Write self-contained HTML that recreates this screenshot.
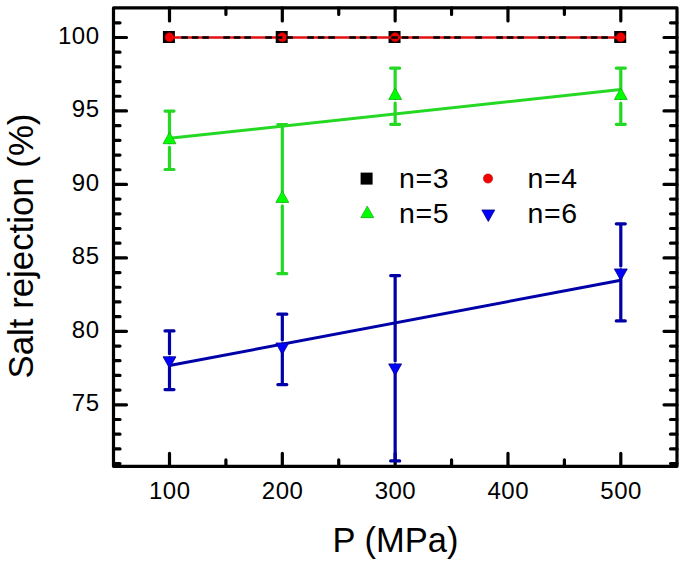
<!DOCTYPE html>
<html><head><meta charset="utf-8"><style>
html,body{margin:0;padding:0;background:#fff;}
svg{display:block;}
text{font-family:"Liberation Sans",sans-serif;}
</style></head><body>
<svg width="685" height="565" viewBox="0 0 685 565">
<rect width="685" height="565" fill="#fff"/>
<path d="M169.50 466.3V453.3M169.50 7.9V20.9M282.32 466.3V453.3M282.32 7.9V20.9M395.15 466.3V453.3M395.15 7.9V20.9M507.97 466.3V453.3M507.97 7.9V20.9M620.80 466.3V453.3M620.80 7.9V20.9M225.91 466.3V459.8M225.91 7.9V14.4M338.74 466.3V459.8M338.74 7.9V14.4M451.56 466.3V459.8M451.56 7.9V14.4M564.39 466.3V459.8M564.39 7.9V14.4M113.5 463.57H120.0M677.0 463.57H670.5M113.5 448.88H120.0M677.0 448.88H670.5M113.5 434.18H120.0M677.0 434.18H670.5M113.5 419.49H120.0M677.0 419.49H670.5M113.5 404.80H126.5M677.0 404.80H664.0M113.5 390.11H120.0M677.0 390.11H670.5M113.5 375.42H120.0M677.0 375.42H670.5M113.5 360.72H120.0M677.0 360.72H670.5M113.5 346.03H120.0M677.0 346.03H670.5M113.5 331.34H126.5M677.0 331.34H664.0M113.5 316.65H120.0M677.0 316.65H670.5M113.5 301.96H120.0M677.0 301.96H670.5M113.5 287.26H120.0M677.0 287.26H670.5M113.5 272.57H120.0M677.0 272.57H670.5M113.5 257.88H126.5M677.0 257.88H664.0M113.5 243.19H120.0M677.0 243.19H670.5M113.5 228.50H120.0M677.0 228.50H670.5M113.5 213.80H120.0M677.0 213.80H670.5M113.5 199.11H120.0M677.0 199.11H670.5M113.5 184.42H126.5M677.0 184.42H664.0M113.5 169.73H120.0M677.0 169.73H670.5M113.5 155.04H120.0M677.0 155.04H670.5M113.5 140.34H120.0M677.0 140.34H670.5M113.5 125.65H120.0M677.0 125.65H670.5M113.5 110.96H126.5M677.0 110.96H664.0M113.5 96.27H120.0M677.0 96.27H670.5M113.5 81.58H120.0M677.0 81.58H670.5M113.5 66.88H120.0M677.0 66.88H670.5M113.5 52.19H120.0M677.0 52.19H670.5M113.5 37.50H126.5M677.0 37.50H664.0M113.5 22.81H120.0M677.0 22.81H670.5" stroke="#000" stroke-width="3.2" stroke-linecap="round" fill="none"/>
<rect x="113.5" y="7.9" width="563.5" height="458.4" stroke="#000" stroke-width="3.2" fill="none" stroke-linejoin="round"/>
<g font-size="24" letter-spacing="0.5" fill="#000"><text x="99.5" y="411.2" text-anchor="end">75</text><text x="99.5" y="337.7" text-anchor="end">80</text><text x="99.5" y="264.3" text-anchor="end">85</text><text x="99.5" y="190.8" text-anchor="end">90</text><text x="99.5" y="117.4" text-anchor="end">95</text><text x="99.5" y="43.9" text-anchor="end">100</text><text x="169.8" y="499.2" text-anchor="middle">100</text><text x="282.6" y="499.2" text-anchor="middle">200</text><text x="395.4" y="499.2" text-anchor="middle">300</text><text x="508.3" y="499.2" text-anchor="middle">400</text><text x="621.1" y="499.2" text-anchor="middle">500</text></g>
<text x="332.5" y="551.8" font-size="34.5">P (MPa)</text>
<text transform="translate(33 378.5) rotate(-90)" font-size="34.8">Salt rejection (%)</text>
<path d="M165.00 111.10H174.00M165.00 169.50H174.00M169.50 111.10V142.73M169.50 147.23V169.50" stroke="#24d824" stroke-width="3.2" stroke-linecap="round" fill="none"/>
<path d="M277.82 124.50H286.82M277.82 273.60H286.82M282.32 124.50V201.43M282.32 205.93V273.60" stroke="#24d824" stroke-width="3.2" stroke-linecap="round" fill="none"/>
<path d="M390.65 68.20H399.65M390.65 124.30H399.65M395.15 68.20V98.53M395.15 103.03V124.30" stroke="#24d824" stroke-width="3.2" stroke-linecap="round" fill="none"/>
<path d="M616.30 68.20H625.30M616.30 124.30H625.30M620.80 68.20V98.53M620.80 103.03V124.30" stroke="#24d824" stroke-width="3.2" stroke-linecap="round" fill="none"/>
<path d="M165.00 330.90H174.00M165.00 389.60H174.00M169.50 330.90V353.77M169.50 357.77V389.60" stroke="#0000a8" stroke-width="3.2" stroke-linecap="round" fill="none"/>
<path d="M277.82 314.20H286.82M277.82 384.60H286.82M282.32 314.20V339.97M282.32 343.97V384.60" stroke="#0000a8" stroke-width="3.2" stroke-linecap="round" fill="none"/>
<path d="M390.65 275.60H399.65M390.65 460.90H399.65M395.15 275.60V360.92M395.15 364.92V460.90" stroke="#0000a8" stroke-width="3.2" stroke-linecap="round" fill="none"/>
<path d="M616.30 223.80H625.30M616.30 320.90H625.30M620.80 223.80V265.97M620.80 269.97V320.90" stroke="#0000a8" stroke-width="3.2" stroke-linecap="round" fill="none"/>
<path d="M169.5 138.35L620.8 89.6" stroke="#24d824" stroke-width="3" fill="none"/>
<path d="M169.5 365.5L620.8 280.3" stroke="#0000a8" stroke-width="3" fill="none"/>
<path d="M169.50 132.23L175.95 143.73L163.05 143.73Z" fill="#00ff00" stroke="#10b010" stroke-width="0.8" stroke-linejoin="miter"/>
<path d="M282.32 190.93L288.77 202.43L275.88 202.43Z" fill="#00ff00" stroke="#10b010" stroke-width="0.8" stroke-linejoin="miter"/>
<path d="M395.15 88.03L401.60 99.53L388.70 99.53Z" fill="#00ff00" stroke="#10b010" stroke-width="0.8" stroke-linejoin="miter"/>
<path d="M620.80 88.03L627.25 99.53L614.35 99.53Z" fill="#00ff00" stroke="#10b010" stroke-width="0.8" stroke-linejoin="miter"/>
<path d="M169.50 368.27L175.95 356.77L163.05 356.77Z" fill="#0000ff" stroke="#000080" stroke-width="0.8" stroke-linejoin="miter"/>
<path d="M282.32 354.47L288.77 342.97L275.88 342.97Z" fill="#0000ff" stroke="#000080" stroke-width="0.8" stroke-linejoin="miter"/>
<path d="M395.15 375.42L401.60 363.92L388.70 363.92Z" fill="#0000ff" stroke="#000080" stroke-width="0.8" stroke-linejoin="miter"/>
<path d="M620.80 280.47L627.25 268.97L614.35 268.97Z" fill="#0000ff" stroke="#000080" stroke-width="0.8" stroke-linejoin="miter"/>
<rect x="162.90" y="31.00" width="12" height="12" fill="#000"/>
<rect x="275.72" y="31.00" width="12" height="12" fill="#000"/>
<rect x="388.55" y="31.00" width="12" height="12" fill="#000"/>
<rect x="614.20" y="31.00" width="12" height="12" fill="#000"/>
<path d="M169.5 37.5H620.8" stroke="#e01010" stroke-width="2.7" fill="none"/>
<circle cx="169.50" cy="37.2" r="4.5" fill="#f00000" stroke="#c00000" stroke-width="0.6"/>
<circle cx="282.32" cy="37.2" r="4.5" fill="#f00000" stroke="#c00000" stroke-width="0.6"/>
<circle cx="395.15" cy="37.2" r="4.5" fill="#f00000" stroke="#c00000" stroke-width="0.6"/>
<circle cx="620.80" cy="37.2" r="4.5" fill="#f00000" stroke="#c00000" stroke-width="0.6"/>
<path d="M181.30 37.5H187.90M191.80 37.5H198.40M202.30 37.5H208.90M223.30 37.5H229.90M233.80 37.5H240.40M244.30 37.5H250.90M265.30 37.5H271.90M275.80 37.5H282.40M286.30 37.5H292.90M307.30 37.5H313.90M317.80 37.5H324.40M328.30 37.5H334.90M349.30 37.5H355.90M359.80 37.5H366.40M370.30 37.5H376.90M391.30 37.5H397.90M401.80 37.5H408.40M412.30 37.5H418.90M433.30 37.5H439.90M443.80 37.5H450.40M454.30 37.5H460.90M475.30 37.5H481.90M496.30 37.5H502.90M506.80 37.5H513.40M517.30 37.5H523.90M538.30 37.5H544.90M548.80 37.5H555.40M559.30 37.5H565.90M580.30 37.5H586.90M590.80 37.5H597.40M601.30 37.5H607.90" stroke="#000" stroke-width="2.7" fill="none"/>
<rect x="360.6" y="172.6" width="12" height="12" fill="#000"/>
<circle cx="488" cy="178.5" r="4.6" fill="#f00000" stroke="#c00000" stroke-width="0.6"/>
<path d="M367.30 206.13L373.75 217.63L360.85 217.63Z" fill="#00ff00" stroke="#10b010" stroke-width="0.8" stroke-linejoin="miter"/>
<path d="M488.30 221.47L494.75 209.97L481.85 209.97Z" fill="#0000ff" stroke="#000080" stroke-width="0.8" stroke-linejoin="miter"/>
<g font-size="28.5" letter-spacing="0.6" fill="#000"><text x="399" y="188">n=3</text><text x="527.5" y="188">n=4</text><text x="399" y="222.8">n=5</text><text x="527.5" y="222.8">n=6</text></g>
</svg>
</body></html>
